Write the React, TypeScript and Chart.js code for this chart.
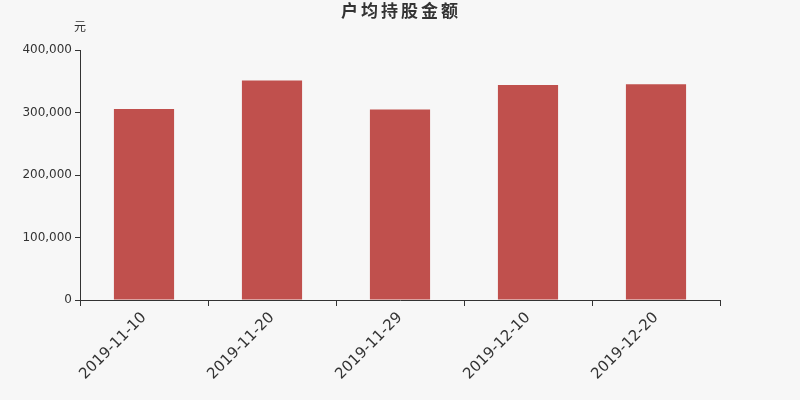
import { useEffect, useRef } from "react"
import { Chart, registerables } from "chart.js"

Chart.register(...registerables)

const dates = ["2019-11-10", "2019-11-20", "2019-11-29", "2019-12-10", "2019-12-20"]
const amounts = [305600, 351200, 305000, 344000, 345400]

const yTicks = [0, 100000, 200000, 300000, 400000]

const FONT = "'DejaVu Sans', 'Noto Sans CJK SC', sans-serif"
const TEXT = "#333333"

// title centred on the whole canvas, plus the unit label above the y axis
const headerText = {
  id: "headerText",
  afterDraw(chart: Chart) {
    const { ctx, chartArea } = chart
    ctx.save()
    ctx.fillStyle = TEXT
    ctx.textAlign = "center"
    ctx.textBaseline = "middle"
    ctx.font = `bold 17px ${FONT}`
    ;(ctx as any).letterSpacing = "3px"
    ctx.fillText("户均持股金额", chart.width / 2 + 1, 13)
    ;(ctx as any).letterSpacing = "0px"
    ctx.font = `12px ${FONT}`
    ctx.fillText("元", chartArea.left, 28)
    ctx.restore()
  },
}

export default function App() {
  const chartRef = useRef<HTMLCanvasElement>(null)
  const chartInstance = useRef<Chart | null>(null)

  useEffect(() => {
    document.body.style.margin = "0"
    if (!chartRef.current) return
    if (chartInstance.current) chartInstance.current.destroy()

    const ctx = chartRef.current.getContext("2d")
    if (!ctx) return

    chartInstance.current = new Chart(ctx, {
      type: "bar",
      data: {
        labels: dates,
        datasets: [
          {
            label: "户均持股金额",
            data: amounts,
            backgroundColor: "#c0504d",
            barPercentage: 0.47,
            categoryPercentage: 1,
          },
        ],
      },
      options: {
        animation: false,
        responsive: false,
        layout: { padding: { left: 0, right: 80, top: 50, bottom: 0 } },
        plugins: {
          legend: { display: false },
          tooltip: { enabled: false },
          title: { display: false },
        },
        scales: {
          x: {
            offset: true,
            grid: { offset: true, drawOnChartArea: false, tickLength: 6, color: TEXT },
            border: { display: true, color: TEXT },
            ticks: {
              color: TEXT,
              font: { family: FONT, size: 15 },
              maxRotation: 45,
              minRotation: 45,
              padding: 3,
            },
            afterFit(scale: any) {
              scale.height = 100
            },
          },
          y: {
            min: 0,
            max: 400000,
            afterBuildTicks(scale: any) {
              scale.ticks = yTicks.map((v) => ({ value: v }))
            },
            grid: { drawOnChartArea: false, tickLength: 5, color: TEXT },
            border: { display: true, color: TEXT },
            ticks: {
              color: TEXT,
              font: { family: FONT, size: 12 },
              padding: 3,
              callback: (v: any) => Number(v).toLocaleString("en-US"),
            },
            afterFit(scale: any) {
              scale.width = 80
            },
          },
        },
      },
      plugins: [headerText],
    })

    return () => {
      if (chartInstance.current) chartInstance.current.destroy()
    }
  }, [])

  return (
    <div style={{ width: 800, height: 400, background: "#f7f7f7" }}>
      <canvas ref={chartRef} width={800} height={400} />
    </div>
  )
}
